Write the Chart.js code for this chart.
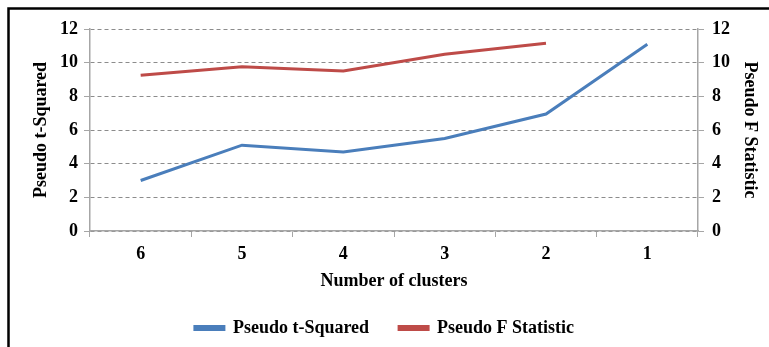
<!DOCTYPE html>
<html>
<head>
<meta charset="utf-8">
<script src="https://cdn.jsdelivr.net/npm/chart.js@4/dist/chart.umd.min.js"></script>
<style>
  html, body { margin: 0; padding: 0; background: #fff; }
  #wrap { width: 769px; height: 347px; position: relative; }
</style>
</head>
<body>
<div id="wrap"><canvas id="c" width="769" height="347"></canvas></div>
<script>
const clusters = ['6', '5', '4', '3', '2', '1'];
const pseudoTSquared = [3.0, 5.1, 4.7, 5.5, 6.95, 11.1];
const pseudoF = [9.25, 9.75, 9.5, 10.5, 11.15, null];
const yTicks = [0, 2, 4, 6, 8, 10, 12];

const FONT = 'Liberation Serif, Times New Roman, serif';
const AXIS_GRAY = '#a6a6a6';
const GRID_GRAY = '#8c8c8c';

// Frame drawn around the chart (top and left edges)
const framePlugin = {
  id: 'frame',
  afterDraw(chart) {
    const ctx = chart.ctx;
    ctx.save();
    ctx.strokeStyle = '#000';
    ctx.lineWidth = 2.5;
    ctx.beginPath();
    ctx.moveTo(8.5, 360);
    ctx.lineTo(8.5, 8.5);
    ctx.lineTo(780, 8.5);
    ctx.stroke();
    ctx.restore();
  }
};

function fixedWidth(w) { return s => { s.width = w; }; }
function fixedHeight(h) { return s => { s.height = h; }; }

const labelFont = { family: FONT, size: 18, weight: 'bold' };

new Chart(document.getElementById('c'), {
  type: 'line',
  data: {
    labels: clusters,
    datasets: [
      {
        label: 'Pseudo t-Squared',
        data: pseudoTSquared,
        yAxisID: 'y',
        borderColor: '#4a7ebb',
        backgroundColor: '#4a7ebb',
        borderWidth: 3,
        pointRadius: 0,
        tension: 0
      },
      {
        label: 'Pseudo F Statistic',
        data: pseudoF,
        yAxisID: 'y2',
        borderColor: '#be4b48',
        backgroundColor: '#be4b48',
        borderWidth: 3,
        pointRadius: 0,
        tension: 0
      }
    ]
  },
  options: {
    responsive: false,
    animation: false,
    layout: { padding: { top: 29, left: 0, right: 0, bottom: 0 } },
    plugins: {
      tooltip: { enabled: false },
      legend: {
        position: 'bottom',
        labels: {
          boxWidth: 29,
          boxHeight: 3,
          padding: 30,
          color: '#000',
          font: labelFont
        }
      }
    },
    scales: {
      x: {
        offset: true,
        afterFit: fixedHeight(58),
        grid: { offset: true, drawOnChartArea: false, color: AXIS_GRAY, tickLength: 6 },
        border: { color: AXIS_GRAY, width: 1.5 },
        ticks: { color: '#000', padding: 7, font: labelFont },
        title: {
          display: true, text: 'Number of clusters', color: '#000',
          padding: { top: 4, bottom: -3 },
          font: labelFont
        }
      },
      y: {
        position: 'left',
        min: 0, max: 12,
        afterFit: fixedWidth(90),
        afterBuildTicks: s => { s.ticks = yTicks.map(v => ({ value: v })); },
        grid: { color: GRID_GRAY, tickColor: AXIS_GRAY, tickLength: 6, tickBorderDash: [] },
        border: { color: AXIS_GRAY, width: 1.5, dash: [4, 3] },
        ticks: { color: '#000', padding: 6, font: labelFont },
        title: {
          display: true, text: 'Pseudo t-Squared', color: '#000',
          padding: { top: 31, bottom: 0 },
          font: labelFont
        }
      },
      y2: {
        position: 'right',
        min: 0, max: 12,
        afterFit: fixedWidth(71),
        afterBuildTicks: s => { s.ticks = yTicks.map(v => ({ value: v })); },
        grid: { drawOnChartArea: false, color: AXIS_GRAY, tickLength: 6 },
        border: { color: AXIS_GRAY, width: 1.5 },
        ticks: { color: '#000', padding: 8, font: labelFont },
        title: {
          display: true, text: 'Pseudo F Statistic', color: '#000',
          padding: { top: 9, bottom: 0 },
          font: labelFont
        }
      }
    }
  },
  plugins: [framePlugin]
});
</script>
</body>
</html>
